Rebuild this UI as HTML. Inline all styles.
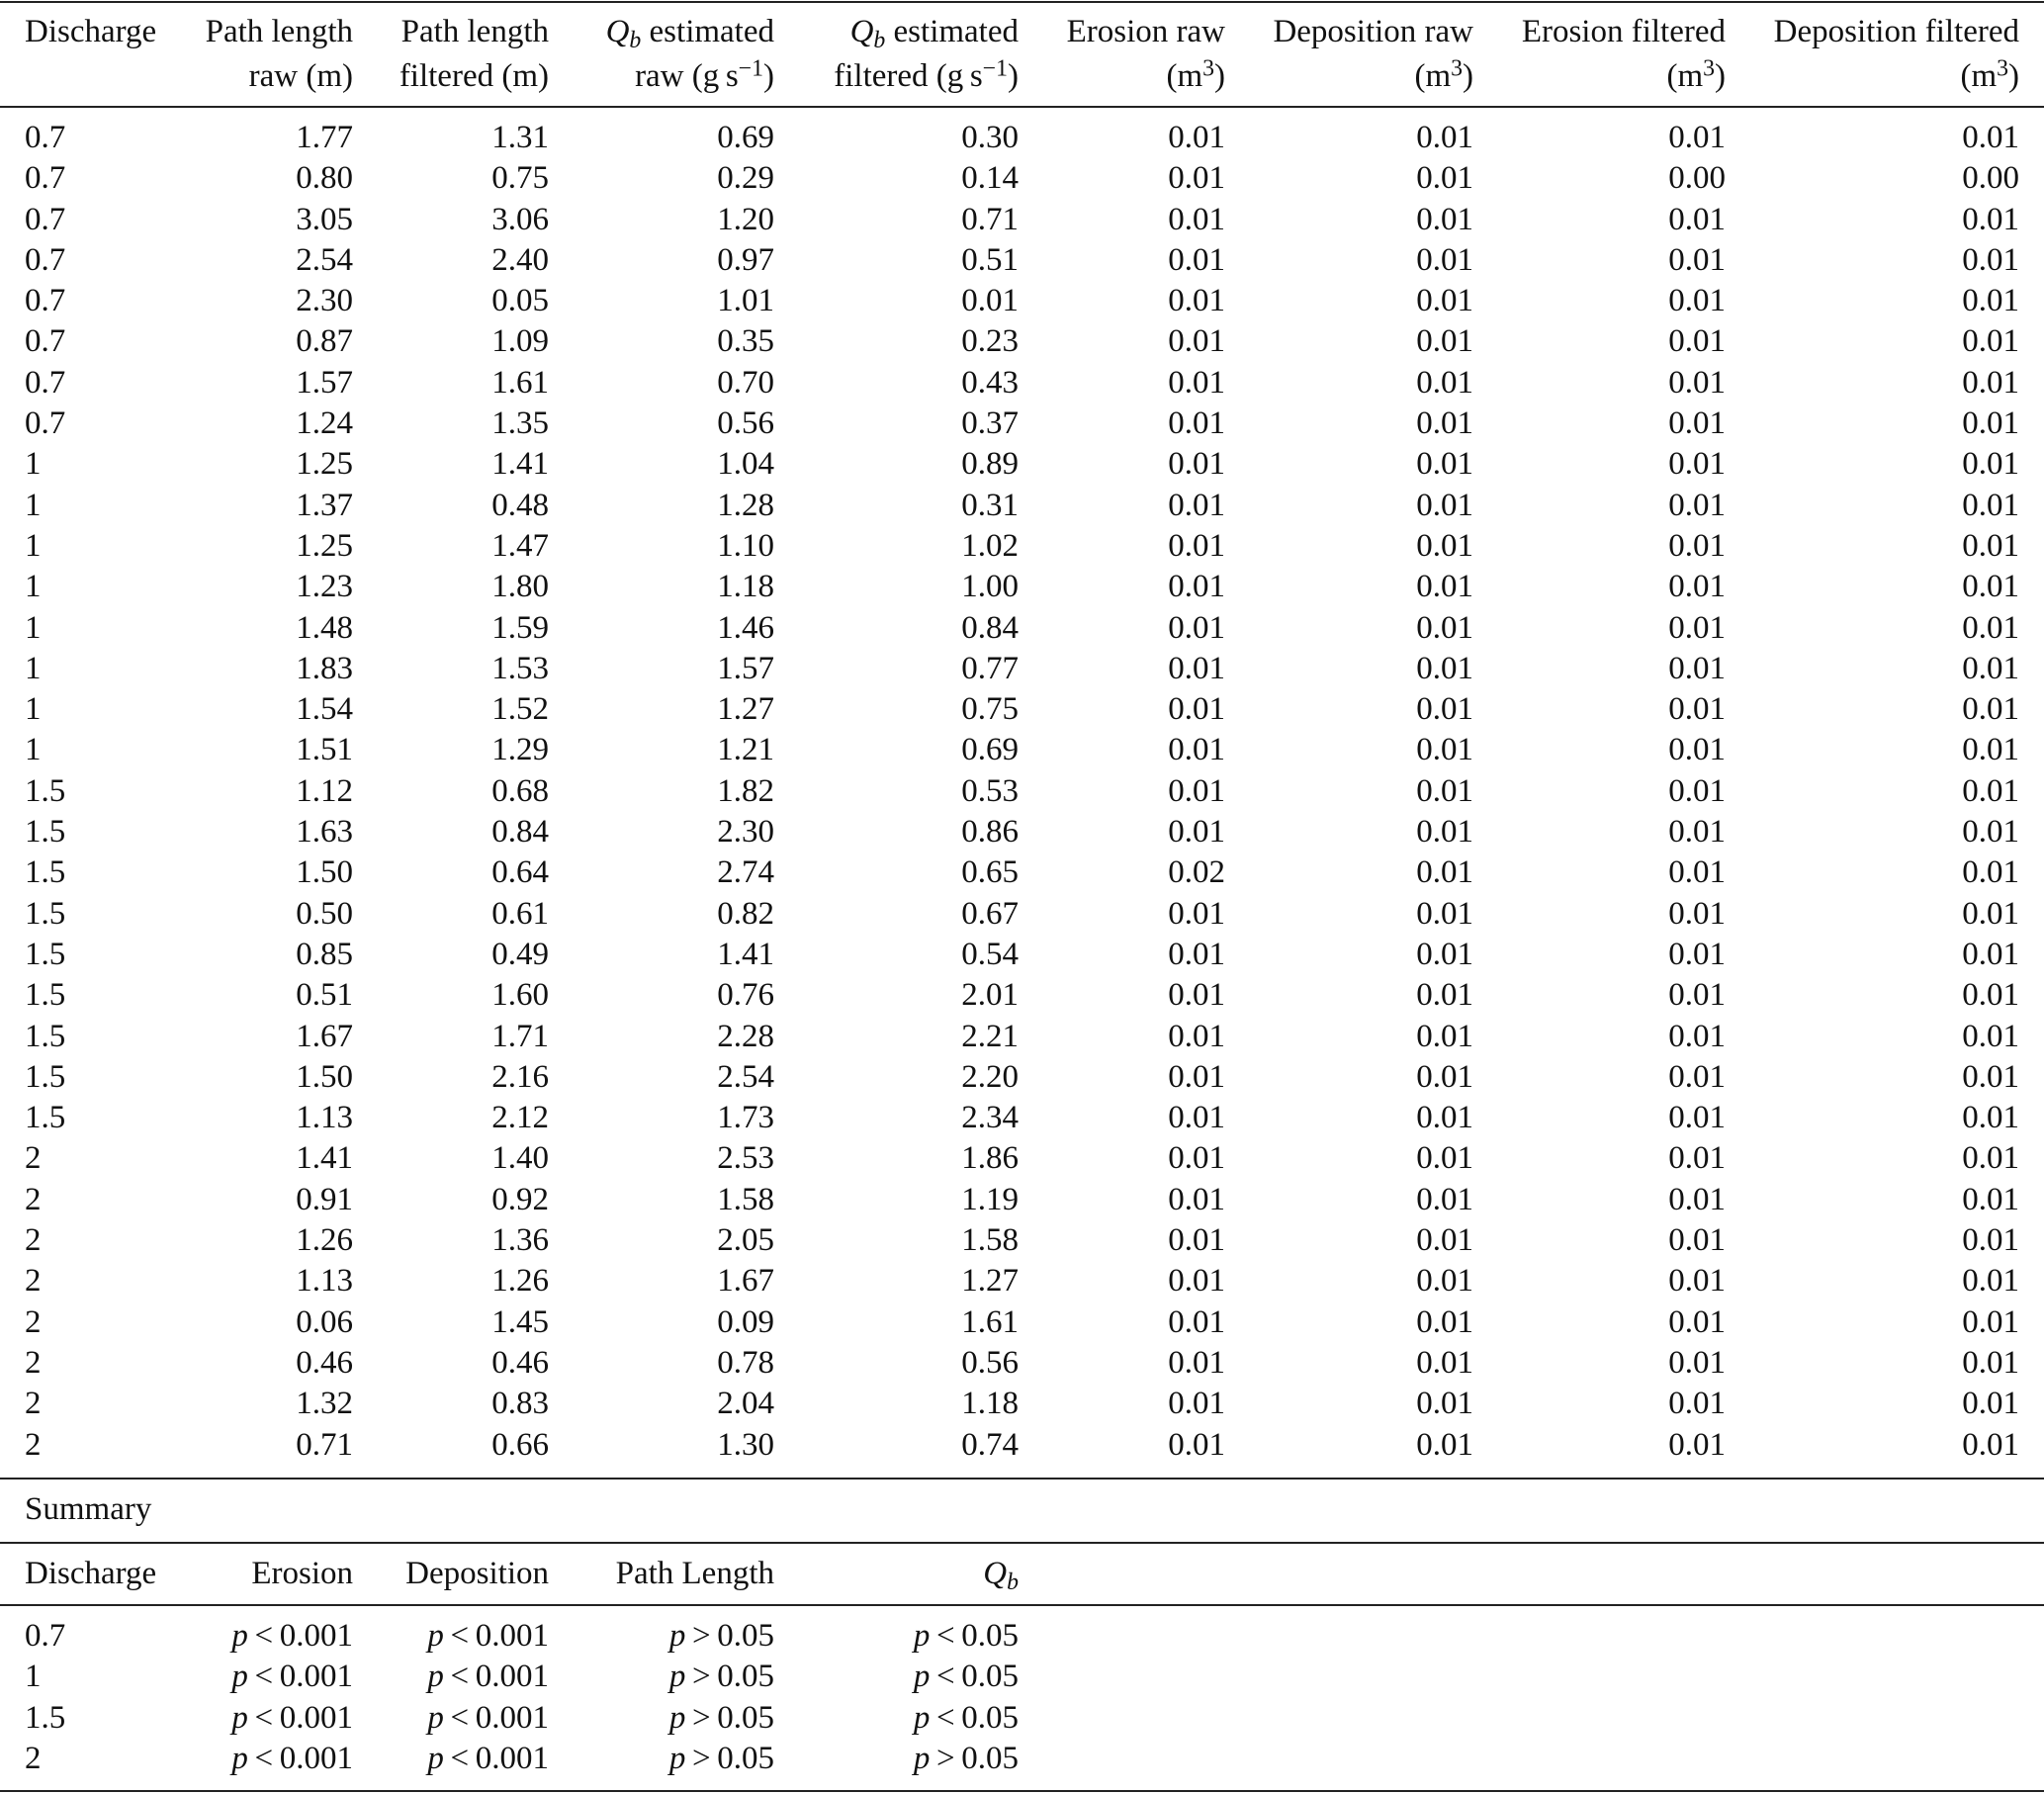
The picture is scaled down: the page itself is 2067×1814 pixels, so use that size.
<!DOCTYPE html>
<html><head><meta charset="utf-8">
<style>
html,body{margin:0;padding:0;background:#fff;}
body{width:2067px;height:1814px;position:relative;overflow:hidden;font-family:"Liberation Serif",serif;font-size:33px;color:#111;}
.ln{position:absolute;left:0;width:2067px;height:2px;background:#222;}
table{position:absolute;left:0;width:2067px;border-collapse:collapse;table-layout:fixed;}
td{padding:0;white-space:nowrap;text-align:right;height:41.3px;line-height:41.3px;}
td:first-child{text-align:left;padding-left:25px;}
td:last-child{padding-right:25px;}
col.c0{width:200px}col.c1{width:157px}col.c2{width:198px}col.c3{width:228px}col.c4{width:247px}col.c5{width:209px}col.c6{width:251px}col.c7{width:255px}col.c8{width:322px}
.hd td{height:45px;line-height:45px;}
i{font-style:italic}
sub{font-size:0.72em;vertical-align:-0.25em;line-height:0}
sup{font-size:0.72em;vertical-align:0.45em;line-height:0}
</style></head><body>
<div class="ln" style="top:1px"></div>
<table class="hd" style="top:10px">
<colgroup><col class="c0"><col class="c1"><col class="c2"><col class="c3"><col class="c4"><col class="c5"><col class="c6"><col class="c7"><col class="c8"></colgroup>
<tr><td>Discharge</td><td>Path length</td><td>Path length</td><td><i>Q<sub>b</sub></i> estimated</td><td><i>Q<sub>b</sub></i> estimated</td><td>Erosion raw</td><td>Deposition raw</td><td>Erosion filtered</td><td>Deposition filtered</td></tr>
<tr><td></td><td>raw (m)</td><td>filtered (m)</td><td>raw (g&#8201;s<sup>−1</sup>)</td><td>filtered (g&#8201;s<sup>−1</sup>)</td><td>(m<sup>3</sup>)</td><td>(m<sup>3</sup>)</td><td>(m<sup>3</sup>)</td><td>(m<sup>3</sup>)</td></tr>
</table>
<div class="ln" style="top:107px"></div>
<table style="top:119px">
<colgroup><col class="c0"><col class="c1"><col class="c2"><col class="c3"><col class="c4"><col class="c5"><col class="c6"><col class="c7"><col class="c8"></colgroup>
<tr><td>0.7</td><td>1.77</td><td>1.31</td><td>0.69</td><td>0.30</td><td>0.01</td><td>0.01</td><td>0.01</td><td>0.01</td></tr>
<tr><td>0.7</td><td>0.80</td><td>0.75</td><td>0.29</td><td>0.14</td><td>0.01</td><td>0.01</td><td>0.00</td><td>0.00</td></tr>
<tr><td>0.7</td><td>3.05</td><td>3.06</td><td>1.20</td><td>0.71</td><td>0.01</td><td>0.01</td><td>0.01</td><td>0.01</td></tr>
<tr><td>0.7</td><td>2.54</td><td>2.40</td><td>0.97</td><td>0.51</td><td>0.01</td><td>0.01</td><td>0.01</td><td>0.01</td></tr>
<tr><td>0.7</td><td>2.30</td><td>0.05</td><td>1.01</td><td>0.01</td><td>0.01</td><td>0.01</td><td>0.01</td><td>0.01</td></tr>
<tr><td>0.7</td><td>0.87</td><td>1.09</td><td>0.35</td><td>0.23</td><td>0.01</td><td>0.01</td><td>0.01</td><td>0.01</td></tr>
<tr><td>0.7</td><td>1.57</td><td>1.61</td><td>0.70</td><td>0.43</td><td>0.01</td><td>0.01</td><td>0.01</td><td>0.01</td></tr>
<tr><td>0.7</td><td>1.24</td><td>1.35</td><td>0.56</td><td>0.37</td><td>0.01</td><td>0.01</td><td>0.01</td><td>0.01</td></tr>
<tr><td>1</td><td>1.25</td><td>1.41</td><td>1.04</td><td>0.89</td><td>0.01</td><td>0.01</td><td>0.01</td><td>0.01</td></tr>
<tr><td>1</td><td>1.37</td><td>0.48</td><td>1.28</td><td>0.31</td><td>0.01</td><td>0.01</td><td>0.01</td><td>0.01</td></tr>
<tr><td>1</td><td>1.25</td><td>1.47</td><td>1.10</td><td>1.02</td><td>0.01</td><td>0.01</td><td>0.01</td><td>0.01</td></tr>
<tr><td>1</td><td>1.23</td><td>1.80</td><td>1.18</td><td>1.00</td><td>0.01</td><td>0.01</td><td>0.01</td><td>0.01</td></tr>
<tr><td>1</td><td>1.48</td><td>1.59</td><td>1.46</td><td>0.84</td><td>0.01</td><td>0.01</td><td>0.01</td><td>0.01</td></tr>
<tr><td>1</td><td>1.83</td><td>1.53</td><td>1.57</td><td>0.77</td><td>0.01</td><td>0.01</td><td>0.01</td><td>0.01</td></tr>
<tr><td>1</td><td>1.54</td><td>1.52</td><td>1.27</td><td>0.75</td><td>0.01</td><td>0.01</td><td>0.01</td><td>0.01</td></tr>
<tr><td>1</td><td>1.51</td><td>1.29</td><td>1.21</td><td>0.69</td><td>0.01</td><td>0.01</td><td>0.01</td><td>0.01</td></tr>
<tr><td>1.5</td><td>1.12</td><td>0.68</td><td>1.82</td><td>0.53</td><td>0.01</td><td>0.01</td><td>0.01</td><td>0.01</td></tr>
<tr><td>1.5</td><td>1.63</td><td>0.84</td><td>2.30</td><td>0.86</td><td>0.01</td><td>0.01</td><td>0.01</td><td>0.01</td></tr>
<tr><td>1.5</td><td>1.50</td><td>0.64</td><td>2.74</td><td>0.65</td><td>0.02</td><td>0.01</td><td>0.01</td><td>0.01</td></tr>
<tr><td>1.5</td><td>0.50</td><td>0.61</td><td>0.82</td><td>0.67</td><td>0.01</td><td>0.01</td><td>0.01</td><td>0.01</td></tr>
<tr><td>1.5</td><td>0.85</td><td>0.49</td><td>1.41</td><td>0.54</td><td>0.01</td><td>0.01</td><td>0.01</td><td>0.01</td></tr>
<tr><td>1.5</td><td>0.51</td><td>1.60</td><td>0.76</td><td>2.01</td><td>0.01</td><td>0.01</td><td>0.01</td><td>0.01</td></tr>
<tr><td>1.5</td><td>1.67</td><td>1.71</td><td>2.28</td><td>2.21</td><td>0.01</td><td>0.01</td><td>0.01</td><td>0.01</td></tr>
<tr><td>1.5</td><td>1.50</td><td>2.16</td><td>2.54</td><td>2.20</td><td>0.01</td><td>0.01</td><td>0.01</td><td>0.01</td></tr>
<tr><td>1.5</td><td>1.13</td><td>2.12</td><td>1.73</td><td>2.34</td><td>0.01</td><td>0.01</td><td>0.01</td><td>0.01</td></tr>
<tr><td>2</td><td>1.41</td><td>1.40</td><td>2.53</td><td>1.86</td><td>0.01</td><td>0.01</td><td>0.01</td><td>0.01</td></tr>
<tr><td>2</td><td>0.91</td><td>0.92</td><td>1.58</td><td>1.19</td><td>0.01</td><td>0.01</td><td>0.01</td><td>0.01</td></tr>
<tr><td>2</td><td>1.26</td><td>1.36</td><td>2.05</td><td>1.58</td><td>0.01</td><td>0.01</td><td>0.01</td><td>0.01</td></tr>
<tr><td>2</td><td>1.13</td><td>1.26</td><td>1.67</td><td>1.27</td><td>0.01</td><td>0.01</td><td>0.01</td><td>0.01</td></tr>
<tr><td>2</td><td>0.06</td><td>1.45</td><td>0.09</td><td>1.61</td><td>0.01</td><td>0.01</td><td>0.01</td><td>0.01</td></tr>
<tr><td>2</td><td>0.46</td><td>0.46</td><td>0.78</td><td>0.56</td><td>0.01</td><td>0.01</td><td>0.01</td><td>0.01</td></tr>
<tr><td>2</td><td>1.32</td><td>0.83</td><td>2.04</td><td>1.18</td><td>0.01</td><td>0.01</td><td>0.01</td><td>0.01</td></tr>
<tr><td>2</td><td>0.71</td><td>0.66</td><td>1.30</td><td>0.74</td><td>0.01</td><td>0.01</td><td>0.01</td><td>0.01</td></tr>
</table>
<div class="ln" style="top:1494px"></div>
<div style="position:absolute;left:25px;top:1505.5px;line-height:41px;">Summary</div>
<div class="ln" style="top:1559px"></div>
<table style="top:1570.5px">
<colgroup><col class="c0"><col class="c1"><col class="c2"><col class="c3"><col class="c4"><col class="c5"><col class="c6"><col class="c7"><col class="c8"></colgroup>
<tr><td>Discharge</td><td>Erosion</td><td>Deposition</td><td>Path Length</td><td><i>Q<sub>b</sub></i></td><td></td><td></td><td></td><td></td></tr>
</table>
<div class="ln" style="top:1622px"></div>
<table style="top:1634px">
<colgroup><col class="c0"><col class="c1"><col class="c2"><col class="c3"><col class="c4"><col class="c5"><col class="c6"><col class="c7"><col class="c8"></colgroup>
<tr><td>0.7</td><td><i>p</i>&#8201;&lt;&#8201;0.001</td><td><i>p</i>&#8201;&lt;&#8201;0.001</td><td><i>p</i>&#8201;&gt;&#8201;0.05</td><td><i>p</i>&#8201;&lt;&#8201;0.05</td><td></td><td></td><td></td><td></td></tr>
<tr><td>1</td><td><i>p</i>&#8201;&lt;&#8201;0.001</td><td><i>p</i>&#8201;&lt;&#8201;0.001</td><td><i>p</i>&#8201;&gt;&#8201;0.05</td><td><i>p</i>&#8201;&lt;&#8201;0.05</td><td></td><td></td><td></td><td></td></tr>
<tr><td>1.5</td><td><i>p</i>&#8201;&lt;&#8201;0.001</td><td><i>p</i>&#8201;&lt;&#8201;0.001</td><td><i>p</i>&#8201;&gt;&#8201;0.05</td><td><i>p</i>&#8201;&lt;&#8201;0.05</td><td></td><td></td><td></td><td></td></tr>
<tr><td>2</td><td><i>p</i>&#8201;&lt;&#8201;0.001</td><td><i>p</i>&#8201;&lt;&#8201;0.001</td><td><i>p</i>&#8201;&gt;&#8201;0.05</td><td><i>p</i>&#8201;&gt;&#8201;0.05</td><td></td><td></td><td></td><td></td></tr>
</table>
<div class="ln" style="top:1810px"></div>
</body></html>
